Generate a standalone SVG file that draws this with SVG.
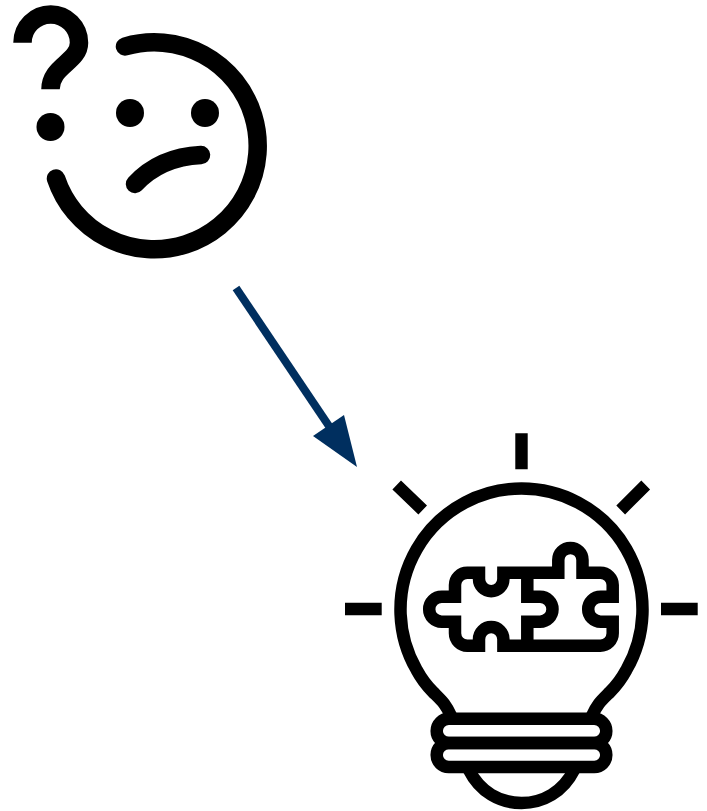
<svg xmlns="http://www.w3.org/2000/svg" width="707" height="811" viewBox="0 0 707 811">
  <style>
    .face { fill: none; stroke: #000; stroke-width: 18.5; stroke-linecap: round; }
    .bulb { fill: none; stroke: #000; stroke-width: 12.5; stroke-linejoin: miter; }
    .ray { fill: none; stroke: #000; stroke-width: 12.4; }
  </style>
  <rect width="707" height="811" fill="#fff"/>
  <g id="confused-face">
    <path class="face" d="M125,46.5 A103.500,103.500 0 1 1 56,178.500"/>
    <circle cx="130" cy="113" r="14"/>
    <circle cx="205" cy="113" r="14"/>
    <path class="face" d="M135,184 Q160,157 201,155"/>
    <path class="face" style="stroke-linecap:butt" d="M22.500,42.700 A28.250,28.250 0 0 1 79,42.700 C79,62 50.500,66 50.500,89.300"/>
    <circle cx="50.500" cy="127" r="14"/>
  </g>
  <g id="connectors">
    <line x1="236" y1="288" x2="335" y2="435" stroke="#002f5f" stroke-width="8"/>
    <polygon points="344,415 313,436 357,467" fill="#002f5f"/>
  </g>
  <g id="idea-bulb">
    <path class="ray" d="M521.500,433.300 V469.300 M345,609 H381.700 M661,609 H697.700 M396.700,485 L422.700,510 M645.700,485 L620.700,510"/>
    <path class="bulb" d="M451,716 C446,704 441,700 433,692 C427,686 421,678 416.700,670 A121,121 0 1 1 626.300,670 C622,678 616,686 610,692 C602,700 597,704 592,716"/>
    <rect class="bulb" x="436.700" y="718.800" width="169.600" height="24.300" rx="12.150"/>
    <rect class="bulb" x="436.700" y="743" width="169.600" height="24" rx="12"/>
    <path class="bulb" d="M469,770 C480,792 500,803 521.500,803 C543,803 563,792 574,770"/>
    <path class="bulb" d="M479,572.700 H467.300 A12.300,12.300 0 0 0 455,585 V596.700 H441.700 A12.500,12.500 0 0 0 441.700,621.700 H455 V633.300 A12.400,12.400 0 0 0 467.300,645.700 H479 V639.300 A12.200,12.200 0 0 1 503.400,639.300 V645.700 H600.300 A12.400,12.400 0 0 0 612.700,633.300 V621.700 H600.700 A12.500,12.500 0 0 1 600.700,596.700 H612.700 V585 A12.300,12.300 0 0 0 600.400,572.700 H582.500 V560 A12.100,12.100 0 0 0 558.300,560 V572.700 H503.400 V579 A12.200,12.200 0 0 1 479,579 Z"/>
    <path class="bulb" d="M527.300,572.700 V596.700 H540 A12.500,12.500 0 0 1 540,621.700 H527.300 V645.700"/>
  </g>
</svg>
